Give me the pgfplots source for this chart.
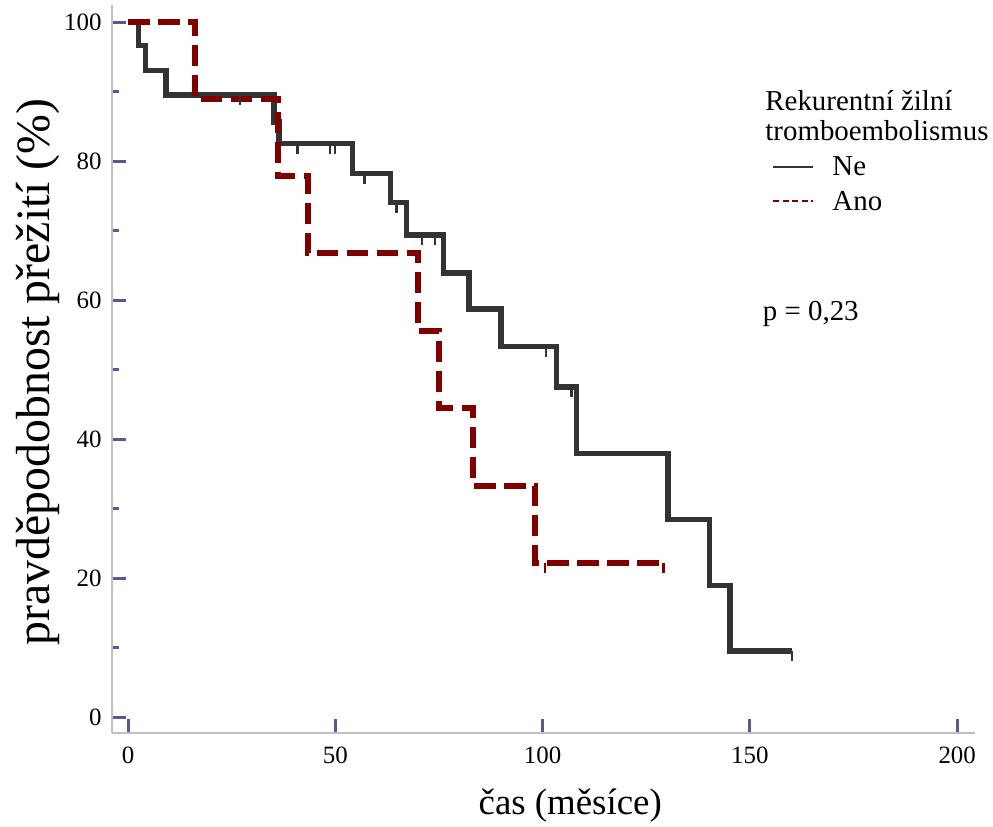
\documentclass[border=0pt]{standalone}
\usepackage{fontspec}
\setmainfont{Liberation Serif}
\usepackage{pgfplots}
\pgfplotsset{compat=1.18}
\definecolor{ne}{RGB}{51,51,51}
\definecolor{ano}{RGB}{128,0,0}
\definecolor{tickc}{RGB}{88,88,150}
\definecolor{axc}{RGB}{190,190,195}
\pgfdeclareplotmark{cens}{\pgfpathmoveto{\pgfpoint{0pt}{0pt}}\pgfpathlineto{\pgfpoint{0pt}{-10bp}}\pgfusepathqstroke}
\begin{document}
\begin{tikzpicture}
\path[use as bounding box] (-112bp,-94bp) rectangle (881bp,733bp);
\begin{axis}[
  at={(0,0)}, anchor=south west,
  scale only axis, width=863bp, height=728bp,
  xmin=-3.86, xmax=204.3, ymin=-2.3, ymax=102.45,
  clip=false,
  axis lines*=left,
  axis line style={draw=axc, line width=1.2bp},
  xtick={0,50,100,150,200},
  ytick={0,20,40,60,80,100},
  minor ytick={10,30,50,70,90},
  tick align=inside,
  major tick length=14bp,
  minor tick length=7bp,
  tick style={draw=tickc, line width=3bp},
  /pgf/number format/assume math mode=true,
  tick label style={font=\fontsize{25}{28}\selectfont, text=black},
  xticklabel style={yshift=-10bp},
  yticklabel style={xshift=-7bp},
  xlabel={čas (měsíce)},
  xlabel style={at={(rel axis cs:0.531,-0.1113)}, anchor=base, font=\fontsize{37}{42}\selectfont},
  ylabel={pravděpodobnost přežití (\%)},
  ylabel style={at={(rel axis cs:-0.0857,0.496)}, anchor=center, font=\fontsize{48}{54}\selectfont},
  legend image code/.code={\draw[#1] (0bp,0bp) -- (40bp,0bp);},
  legend style={at={(axis cs:155.4,80.6)}, anchor=north west, draw=none, fill=none,
    inner sep=0pt, outer sep=0pt, row sep=13.8bp, column sep=18bp,
    nodes={inner sep=0pt, anchor=west}, font=\fontsize{29}{33}\selectfont},
  legend cell align=left,
]
\addlegendimage{ne, line width=2.2bp}
\addlegendentry{Ne}
\addlegendimage{ano, line width=2.2bp, dash pattern=on 6bp off 3.5bp}
\addlegendentry{Ano}

% Ne (black)
\addplot[const plot, ne, line width=5.5bp, forget plot] coordinates {
  (0,100) (2.5,96.6) (4.2,93.0) (9.2,89.5) (35.2,85.6) (36.4,82.5)
  (54.1,78.2) (63.3,74.0) (67.2,69.35) (76.1,63.9) (82.2,58.7)
  (90.0,53.3) (103.3,47.5) (108.2,37.9) (130.2,28.4) (140.3,18.9)
  (145.2,9.5) (160.1,9.5)
};
\addplot[only marks, mark=cens, ne, mark options={line width=2.5bp}, forget plot] coordinates {
  (27.0,89.5) (40.9,82.5) (48.7,82.5) (49.9,82.5) (57.0,78.2) (64.8,74.0)
  (70.9,69.35) (74.1,69.35) (100.8,53.3) (107.0,47.5) (160.1,9.5)
};

% Ano (red)
\addplot[const plot, ano, line width=6bp, dash pattern=on 21.5bp off 8.5bp, forget plot] coordinates {
  (0,100) (16.2,88.9) (36.2,77.8) (43.3,66.7) (70.0,55.6) (75.1,44.4)
  (83.3,33.3) (98.2,22.2) (129.2,22.2)
};
\addplot[only marks, mark=cens, ano, mark options={line width=2.5bp}, forget plot] coordinates {
  (100.6,22.2) (129.2,22.2)
};

\node[anchor=base west, inner sep=0pt, font=\fontsize{29}{33}\selectfont] at (axis cs:153.7,87.3) {Rekurentní žilní};
\node[anchor=base west, inner sep=0pt, font=\fontsize{29}{33}\selectfont] at (axis cs:153.7,82.9) {tromboembolismus};
\node[anchor=base west, inner sep=0pt, font=\fontsize{29}{33}\selectfont] at (axis cs:153.1,57.1) {p = 0,23};
\end{axis}
\end{tikzpicture}
\end{document}
